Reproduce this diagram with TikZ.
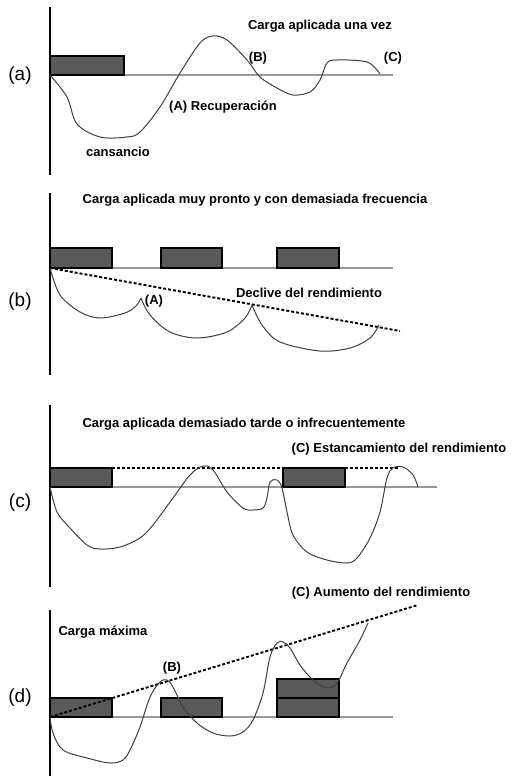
\documentclass[tikz,border=0pt]{standalone}
\usepackage{fontspec}
\setmainfont{Liberation Sans}
\begin{document}
\begin{tikzpicture}[x=1pt,y=-1pt]
\tikzset{
  axis/.style={draw=black,line width=1.1pt},
  baseline/.style={draw=black!40,line width=1.2pt},
  loadbox/.style={draw=black,fill=black!65,line width=1.8pt},
  curve/.style={draw=black!75,line width=1pt,smooth,tension=0.55},
  trend/.style={draw=black,line width=1.9pt,dash pattern=on 3pt off 2pt},
  lbl/.style={font=\bfseries\fontsize{13}{15}\selectfont,inner sep=0pt},
  panel/.style={font=\fontsize{19}{21}\selectfont,inner sep=0pt}
}
\useasboundingbox (0,0) rectangle (527,776);
\fill[white] (0,0) rectangle (527,776);

% ---------- (a) ----------
\draw[axis] (50,7) -- (50,175);
\draw[baseline] (50,75) -- (393,75);
\draw[loadbox] (50,56) rectangle (124,75);
\draw[curve] plot coordinates {(50,75) (67,97) (77,124) (100,137) (127,137) (140,132) (160,107) (180,73) (200,43) (213,36) (227,40) (247,60) (260,77) (277,88) (293,95) (310,92) (320,80) (327,63) (337,60) (367,62) (380,74)};
\node[panel] (pa) at (20,76) {(a)};
\node[lbl] (ta) at (320,26) {Carga aplicada una vez};
\node[lbl] (aB) at (258,58) {(B)};
\node[lbl] (aC) at (393,58) {(C)};
\node[lbl] (aA) at (223,107) {(A) Recuperación};
\node[lbl] (aF) at (118,152) {cansancio};

% ---------- (b) ----------
\draw[axis] (50,193) -- (50,375);
\draw[baseline] (50,268) -- (393,268);
\draw[loadbox] (50,248) rectangle (112,268);
\draw[loadbox] (161,248) rectangle (222,268);
\draw[loadbox] (277,248) rectangle (339,268);
\coordinate (bs) at (50,268);
\coordinate (be) at (400,331);
\draw[trend] (bs) -- (be);
\draw[curve] plot coordinates {(50,268) (60,295) (80,312) (100,318) (125,313) (136,306) (141,298)};
\draw[curve] plot coordinates {(141,298) (150,315) (170,332) (197,338) (227,332) (245,318) (252,305)};
\draw[curve] plot coordinates {(252,305) (262,325) (280,342) (320,351) (350,348) (370,338) (379,325)};
\node[panel] (pb) at (20,302) {(b)};
\node[lbl] (tb) at (255,200) {Carga aplicada muy pronto y con demasiada frecuencia};
\node[lbl] (bD) at (309,293) {Declive del rendimiento};
\node[lbl] (bA) at (154,301) {(A)};

% ---------- (c) ----------
\draw[axis] (50,405) -- (50,587);
\draw[baseline] (50,487) -- (437,487);
\draw[loadbox] (50,468) rectangle (112,487);
\draw[loadbox] (283,468) rectangle (345,487);
\coordinate (c1) at (112,468);
\coordinate (c2) at (283,468);
\coordinate (c3) at (345,468);
\coordinate (c4) at (400,468);
\draw[trend] (c1) -- (c2);
\draw[trend] (c3) -- (c4);
\draw[curve] plot coordinates {(50,487) (57,512) (70,528) (87,545) (100,549) (120,547) (140,538) (153,525) (173,498) (190,475) (203,466) (213,470) (227,492) (243,508) (253,510) (263,508) (267,498) (270,482) (277,480) (282,488) (287,512) (293,535) (307,552) (327,560) (347,563) (357,558) (370,538) (380,512) (387,478) (393,468) (403,467) (413,475) (418,487)};
\node[panel] (pc) at (20,503) {(c)};
\node[lbl] (tc) at (244,424) {Carga aplicada demasiado tarde o infrecuentemente};
\node[lbl] (cC) at (399,449) {(C) Estancamiento del rendimiento};

% ---------- (d) ----------
\draw[axis] (50,610) -- (50,776);
\draw[baseline] (50,717) -- (393,717);
\draw[loadbox] (50,698) rectangle (112,717);
\draw[loadbox] (161,698) rectangle (222,717);
\draw[loadbox] (277,698) rectangle (339,717);
\draw[loadbox] (277,679) rectangle (339,698);
\coordinate (ds) at (50,717);
\coordinate (de) at (418,605);
\draw[trend] (ds) -- (de);
\draw[curve] plot coordinates {(50,717) (53,733) (63,750) (87,758) (110,763) (123,760) (130,750) (140,727) (150,697) (160,682) (167,680) (173,687) (183,707) (197,723) (213,733) (230,736) (243,732) (253,720) (263,693) (270,657) (277,643) (283,642) (290,648) (300,665) (313,680) (327,688) (337,683) (347,663) (360,640) (368,623)};
\node[panel] (pd) at (20,698) {(d)};
\node[lbl] (dM) at (103,632) {Carga máxima};
\node[lbl] (dB) at (172,668) {(B)};
\node[lbl] (dC) at (381,593) {(C) Aumento del rendimiento};
\end{tikzpicture}
\end{document}
